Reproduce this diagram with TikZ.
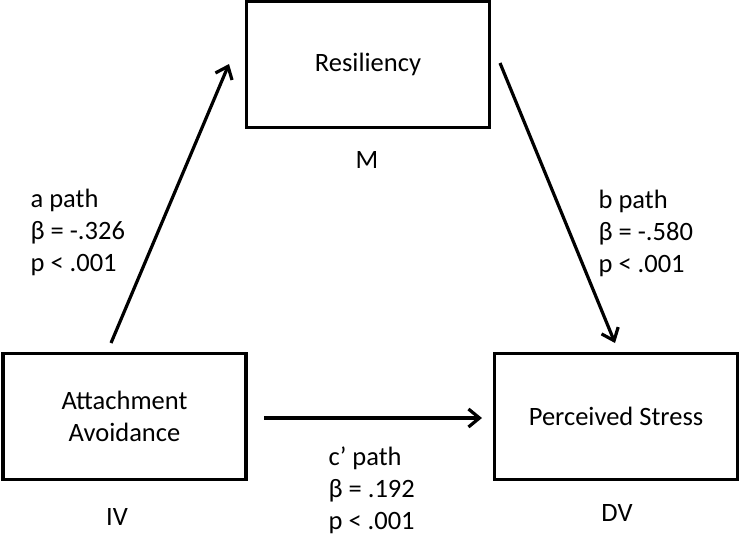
\documentclass[tikz,border=0pt]{standalone}
\usepackage{fontspec}
\setmainfont{Carlito}
\usetikzlibrary{arrows.meta}
\begin{document}
\begin{tikzpicture}[x=1pt,y=-1pt,
  line width=3.2pt,main node/.style={rectangle,draw,minimum width=243pt,minimum height=126pt,inner sep=0pt,font=\fontsize{26.5}{32}\selectfont,align=center},
  lbl/.style={font=\fontsize{26.5}{32}\selectfont,align=left,inner sep=0pt}]

  \useasboundingbox (0,0) rectangle (741,536);

  \node[main node] (1) at (124.5,416.5) {Attachment\\Avoidance};
  \node[main node] (2) at (368,64.5) {Resiliency};
  \node[main node] (3) at (616,416.5) {Perceived Stress};

  \node[lbl] (iv) at (117,517) {IV};
  \node[lbl] (m) at (367,160) {M};
  \node[lbl] (dv) at (617,513) {DV};

  \coordinate (a1) at (111,343);
  \coordinate (a2) at (229,64);
  \coordinate (b1) at (500,63);
  \coordinate (b2) at (615,343);
  \coordinate (c1) at (264,418);
  \coordinate (c2) at (482,418);

  \path[-{Straight Barb[length=11pt,width=18pt,line width=3.2pt]}]
   (a1) edge (a2)
   (b1) edge (b2)
   (c1) edge (c2);

  \node[lbl,anchor=west] (apath) at (29,232) {a path\\β = -.326\\p < .001};
  \node[lbl,anchor=west] (bpath) at (597,233) {b path\\β = -.580\\p < .001};
  \node[lbl,anchor=west] (cpath) at (327,490) {c’ path\\β = .192\\p < .001};
\end{tikzpicture}
\end{document}
